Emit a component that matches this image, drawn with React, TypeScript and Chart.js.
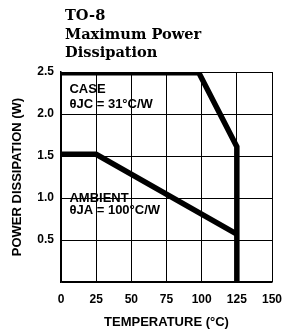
import React, { useEffect, useRef } from "react";
import { Chart, registerables } from "chart.js";

Chart.register(...registerables);

const titleLines = ["TO-8", "Maximum Power", "Dissipation"];
const xTicks = [0, 25, 50, 75, 100, 125, 150];
const yTicks = [0.5, 1.0, 1.5, 2.0, 2.5];
const caseTemps = [0, 98, 125, 125];
const casePower = [2.49, 2.49, 1.61, 0];
const ambientTemps = [0, 25, 125];
const ambientPower = [1.52, 1.52, 0.57];
const xLabel = "TEMPERATURE (°C)";
const yLabel = "POWER DISSIPATION (W)";
const notes = [
  { text: "CASE", x: 6, y: 2.29 },
  { text: "θJC = 31°C/W", x: 6, y: 2.11 },
  { text: "AMBIENT", x: 6, y: 1.0 },
  { text: "θJA = 100°C/W", x: 6, y: 0.85 },
];

const SANS = "'Liberation Sans', Arial, sans-serif";

export default function App() {
  const ref = useRef<HTMLCanvasElement>(null);
  useEffect(() => {
    document.body.style.margin = "0";
    const canvas = ref.current!;
    const overlay = {
      id: "overlay",
      afterDatasetsDraw(chart: any) {
        const ctx = chart.ctx;
        const xs = chart.scales.x;
        const ys = chart.scales.y;
        ctx.save();
        ctx.fillStyle = "#000";
        ctx.textBaseline = "middle";
        ctx.textAlign = "left";
        ctx.font = `bold 13px ${SANS}`;
        for (const n of notes) {
          ctx.fillText(n.text, xs.getPixelForValue(n.x), ys.getPixelForValue(n.y));
        }
        ctx.font = "bold 14.6px 'DejaVu Serif', serif";
        ctx.textBaseline = "alphabetic";
        titleLines.forEach((t, i) => {
          ctx.fillText(t, 65, 20 + i * 18.5);
        });
        ctx.restore();
      },
    };
    const chart = new Chart(canvas, {
      type: "scatter",
      data: {
        datasets: [
          {
            data: caseTemps.map((x, i) => ({ x, y: casePower[i] })),
            showLine: true,
            borderColor: "#000",
            borderWidth: 5.5,
            pointRadius: 0,
            borderJoinStyle: "miter",
          },
          {
            data: ambientTemps.map((x, i) => ({ x, y: ambientPower[i] })),
            showLine: true,
            borderColor: "#000",
            borderWidth: 5.5,
            pointRadius: 0,
            borderJoinStyle: "miter",
          },
        ],
      },
      options: {
        animation: false,
        responsive: false,
        layout: { padding: { top: 72, right: 12, left: 0, bottom: 4 } },
        plugins: { legend: { display: false }, tooltip: { enabled: false } },
        scales: {
          x: {
            type: "linear",
            min: 0,
            max: 150,
            afterBuildTicks: (s: any) => {
              s.ticks = xTicks.map((v) => ({ value: v }));
            },
            afterFit: (s: any) => {
              s.height = 48;
              s.paddingLeft = 0;
              s.paddingRight = 0;
            },
            ticks: {
              color: "#000",
              font: { family: SANS, weight: "bold", size: 12 },
              padding: 10,
              maxRotation: 0,
            },
            grid: { color: "#000", lineWidth: 1, drawTicks: false },
            border: { color: "#000", width: 1.5 },
            title: {
              display: true,
              text: xLabel,
              color: "#000",
              font: { family: SANS, weight: "bold", size: 13 },
              padding: { top: 4, bottom: 0 },
            },
          },
          y: {
            type: "linear",
            min: 0,
            max: 2.5,
            afterBuildTicks: (s: any) => {
              s.ticks = [0, ...yTicks].map((v) => ({ value: v }));
            },
            afterFit: (s: any) => {
              s.width = 61;
              s.paddingTop = 0;
              s.paddingBottom = 0;
            },
            ticks: {
              color: "#000",
              font: { family: SANS, weight: "bold", size: 12 },
              padding: 7,
              callback: (v: any) => (v === 0 ? "" : Number(v).toFixed(1)),
            },
            grid: { color: "#000", lineWidth: 1, drawTicks: false },
            border: { color: "#000", width: 1.5 },
            title: {
              display: true,
              text: yLabel,
              color: "#000",
              font: { family: SANS, weight: "bold", size: 13 },
              padding: { top: 10, bottom: 0 },
            },
          },
        },
      },
      plugins: [overlay],
    });
    return () => chart.destroy();
  }, []);
  return <canvas ref={ref} width={284} height={334} style={{ display: "block" }} />;
}
